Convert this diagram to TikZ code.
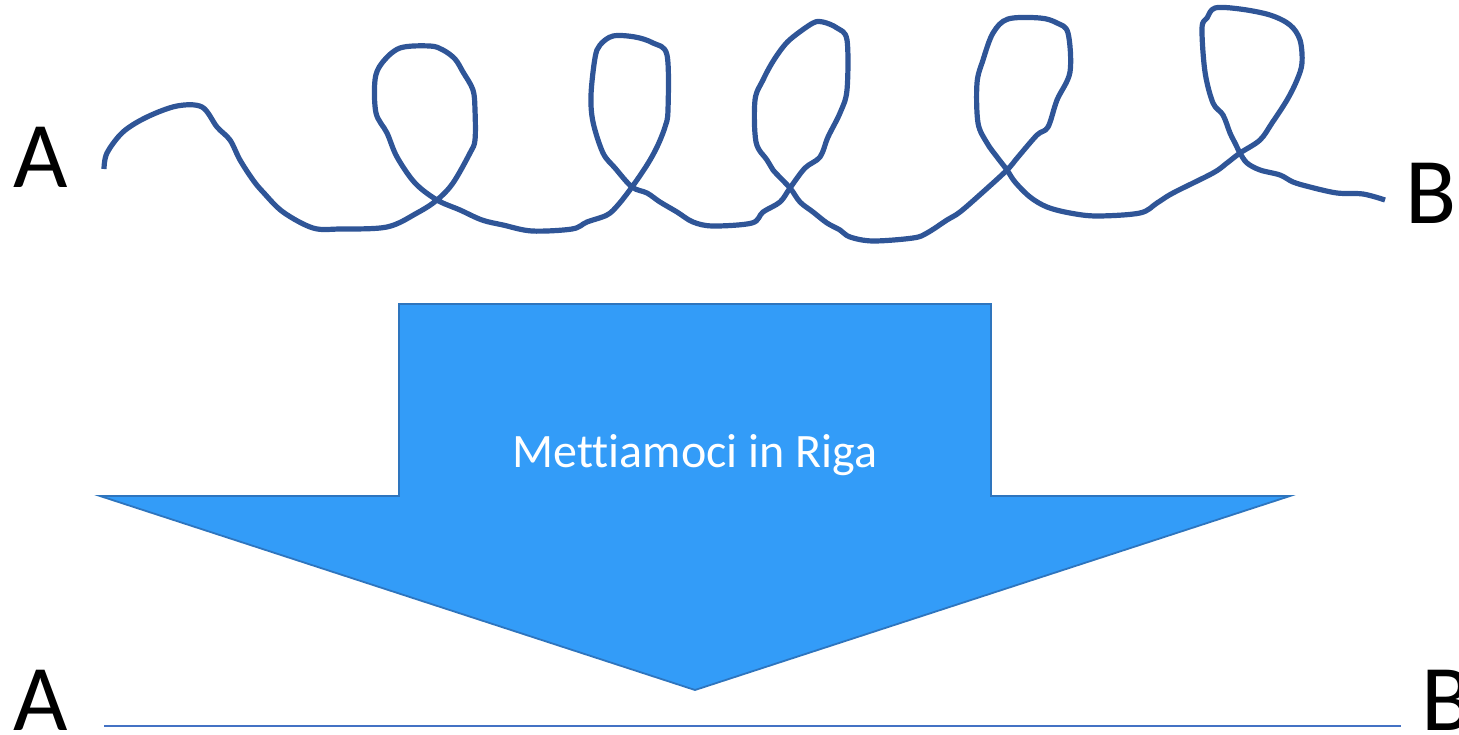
\documentclass[tikz,border=0pt]{standalone}
\usepackage{fontspec}
\setmainfont{Carlito}[Ligatures=NoCommon]
\definecolor{curl}{RGB}{47,85,151}
\definecolor{arrowfill}{RGB}{51,156,248}
\definecolor{arrowedge}{RGB}{46,117,190}
\definecolor{flatline}{RGB}{68,114,196}
\tikzset{
  letter/.style={font=\fontsize{94}{94}\selectfont, inner sep=0pt, anchor=base west, text=black},
  curlline/.style={draw=curl, line width=5.2pt, line join=round},
  bigarrow/.style={fill=arrowfill, draw=arrowedge, line width=1.8pt},
  arrowlabel/.style={font=\fontsize{48}{48}\selectfont, text=white, inner sep=0pt, anchor=base},
  straight/.style={draw=flatline, line width=2.8pt}
}
\begin{document}
\begin{tikzpicture}[x=1pt,y=-1pt]
\useasboundingbox (0,0) rectangle (1459,734);
% top letters
\node[letter] (A1) at (13,187) {A};
\node[letter] (B1) at (1405,223) {B};
% curly line
\draw[curlline] plot[smooth, tension=0.55] coordinates {
(104,169) (107,153) (123,132) (147,117) (177,106) (202,107) (217,127) (230,140) (240,160) (253,180) (263,192) (283,212) (313,228) (340,229) (387,227) (417,213) (437,200) (453,183) (470,153) (475,140) (475,110) (473,90) (463,72) (455,59) (443,50) (430,46) (400,48) (382,63) (375,80) (376,113) (387,133) (397,157) (415,183) (437,200) (460,210) (482,220) (503,225) (532,231) (572,229) (587,222) (607,215) (618,205) (632,187) (647,165) (657,147) (665,127) (668,110) (667,55) (653,43) (635,37) (613,36) (600,45) (595,58) (591,95) (593,122) (603,153) (615,168) (632,187) (647,193) (660,202) (677,212) (693,222) (713,226) (752,223) (763,212) (780,202) (790,188) (805,168) (820,157) (828,137) (840,113) (847,90) (847,40) (837,28) (823,22) (813,23) (793,37) (783,47) (772,63) (763,80) (755,100) (756,142) (767,160) (773,170) (790,188) (800,202) (813,212) (827,223) (840,230) (850,237) (873,241) (913,238) (927,233) (947,220) (960,212) (983,192) (1007,170) (1018,157) (1037,135) (1048,127) (1057,100) (1070,72) (1068,33) (1057,23) (1040,18) (1008,19) (993,33) (983,60) (977,83) (978,123) (987,143) (997,157) (1007,170) (1015,182) (1030,197) (1047,207) (1070,213) (1097,216) (1140,213) (1157,203) (1173,193) (1213,173) (1227,163) (1240,153) (1260,140) (1272,123) (1287,100) (1297,80) (1302,63) (1300,40) (1290,25) (1270,15) (1240,9) (1215,8) (1207,18) (1202,28) (1205,72) (1213,103) (1223,115) (1230,133) (1235,143) (1240,153) (1247,163) (1260,170) (1280,175) (1293,182) (1310,187) (1337,193) (1363,194) (1385,200)};
% big arrow
\draw[bigarrow] (399,304) -- (991,304) -- (991,496) -- (1290,496) -- (695,690) -- (100,496) -- (399,496) -- cycle;
\node[arrowlabel] (label) at (695,467) {Mettiamoci in Riga};
% bottom letters and straight line
\node[letter] (A2) at (13,730) {A};
\node[letter] (B2) at (1421,730) {B};
\coordinate (L1) at (104,726);
\coordinate (L2) at (1401,726);
\draw[straight] (L1) -- (L2);
\end{tikzpicture}
\end{document}
